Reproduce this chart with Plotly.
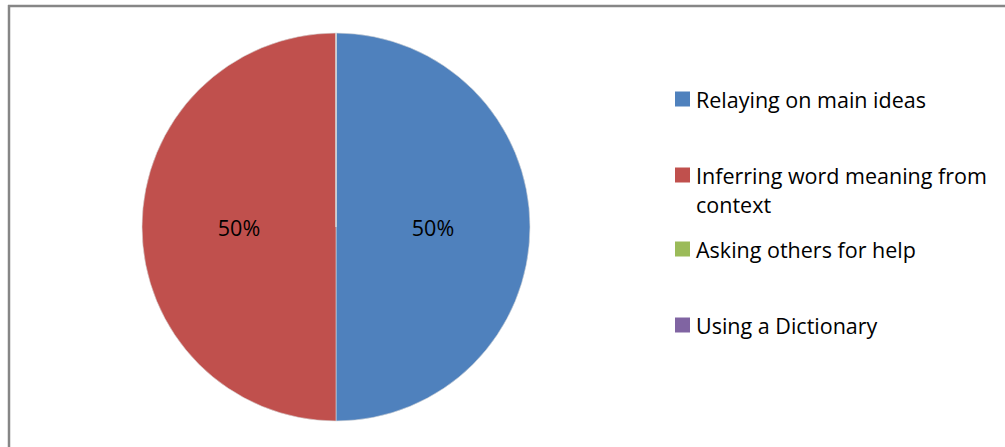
import textwrap
import plotly.graph_objects as go

# Reading strategies and their share of responses
strategies = [
    "Relaying on main ideas",
    "Inferring word meaning from context",
    "Asking others for help",
    "Using a Dictionary",
]
shares = [50, 50, 0, 0]
colors = ["#4F81BD", "#C0504D", "#9BBB59", "#8064A2"]

W, H = 1005, 447
FONT = "Open Sans"
FS = 21.5

fig = go.Figure(
    go.Pie(
        labels=strategies,
        values=shares,
        marker=dict(colors=colors, line=dict(color="#d9d9d9", width=0.6)),
        sort=False,
        direction="clockwise",
        rotation=0,
        textinfo="percent",
        textposition="inside",
        insidetextorientation="horizontal",
        textfont=dict(family=FONT, size=FS, color="black"),
        showlegend=False,
        hoverinfo="label+percent",
        domain=dict(x=[142 / W, 530 / W], y=[1 - 421 / H, 1 - 33 / H]),
    )
)

# Legend drawn on the right: colour square plus wrapped label per strategy
def px_x(x):
    return x / W


def px_y(y):
    return 1 - y / H


row_y = [99, 175, 249, 325]
line_gap = 29
shapes = []
annotations = []
for name, col, y0 in zip(strategies, colors, row_y):
    shapes.append(dict(
        type="rect", xref="paper", yref="paper",
        x0=px_x(675), x1=px_x(690), y0=px_y(y0 + 7.5), y1=px_y(y0 - 7.5),
        fillcolor=col, line=dict(width=0),
    ))
    for i, line in enumerate(textwrap.wrap(name, 27)):
        annotations.append(dict(
            text=line, xref="paper", yref="paper",
            x=px_x(694), y=px_y(y0 + i * line_gap),
            xanchor="left", yanchor="middle", showarrow=False,
            font=dict(family=FONT, size=FS, color="black"),
        ))

# Chart frame (top and left edges)
frame = dict(color="#868686", width=2.5)
shapes.append(dict(type="line", xref="paper", yref="paper",
                   x0=px_x(8), x1=1, y0=px_y(6), y1=px_y(6), line=frame))
shapes.append(dict(type="line", xref="paper", yref="paper",
                   x0=px_x(9), x1=px_x(9), y0=px_y(5), y1=0, line=frame))

fig.update_layout(
    width=W, height=H,
    margin=dict(l=0, r=0, t=0, b=0),
    paper_bgcolor="white",
    plot_bgcolor="white",
    shapes=shapes,
    annotations=annotations,
)

fig.write_html("out.html")
